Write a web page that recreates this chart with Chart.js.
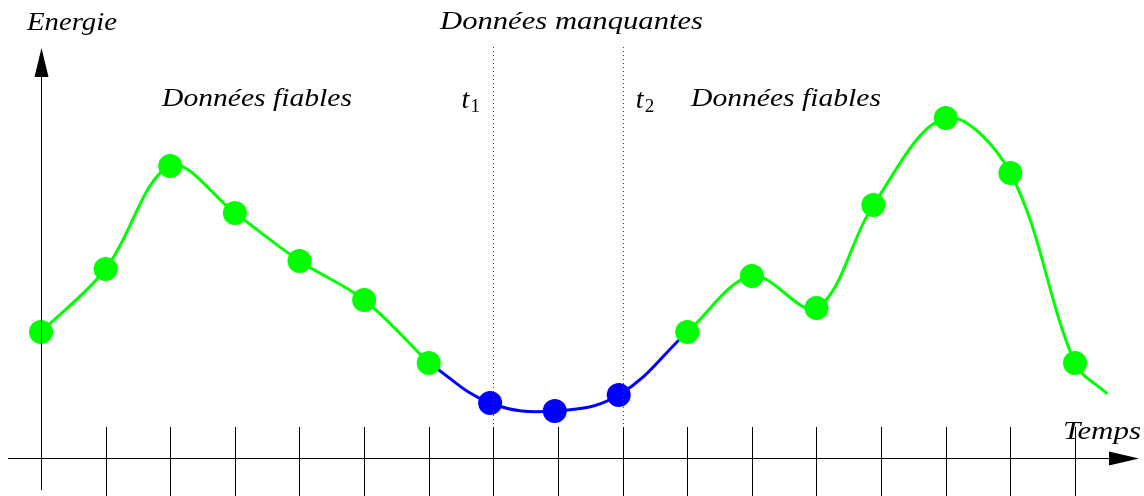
<!DOCTYPE html>
<html>
<head>
<meta charset="utf-8">
<script src="https://cdn.jsdelivr.net/npm/chart.js@4/dist/chart.umd.min.js"></script>
<style>
  html, body { margin: 0; padding: 0; background: #ffffff; }
  #c { display: block; }
</style>
</head>
<body>
<canvas id="c" width="1144" height="496"></canvas>
<script>
// ---- data ----
const timeTicks = [0, 1, 2, 3, 4, 5, 6, 7, 8, 9, 10, 11, 12, 13, 14, 15, 16];
const reliableX1 = [0, 1, 2, 3, 4, 5, 6];
const reliableY1 = [126, 189, 292, 245, 197, 158, 95];
const missingX = [6.95, 7.95, 8.94];
const missingY = [55, 47, 63];
const reliableX2 = [10, 11, 12, 12.88, 14, 15, 16, 16.5];
const reliableY2 = [126, 182, 150, 253, 340, 285, 95, 64];
const boundaryT = [7, 9];           // t1, t2
const axisLabels = { y: 'Energie', x: 'Temps' };
const zoneLabels = { missing: 'Données manquantes', reliable: 'Données fiables' };

// ---- build datasets ----
const greenData = reliableX1.map((x, i) => ({ x, y: reliableY1[i] }))
  .concat([{ x: 8, y: null }])
  .concat(reliableX2.map((x, i) => ({ x, y: reliableY2[i] })));
const greenRadius = greenData.map((p, i) => (i === greenData.length - 1 ? 0 : 12));

const blueData = [{ x: reliableX1[reliableX1.length - 1], y: reliableY1[reliableY1.length - 1] }]
  .concat(missingX.map((x, i) => ({ x, y: missingY[i] })))
  .concat([{ x: reliableX2[0], y: reliableY2[0] }]);
const blueRadius = blueData.map((p, i) => (i === 0 || i === blueData.length - 1 ? 0 : 12));

const STEP = 64.625, ORIGIN = 41;
const X_MIN = -ORIGIN / STEP, X_MAX = (1144 - ORIGIN) / STEP;

const SERIF = '"Liberation Serif", "DejaVu Serif", serif';

function fitText(ctx, str, left, baseline, width, size, italic) {
  ctx.save();
  ctx.font = (italic ? 'italic ' : '') + size + 'px ' + SERIF;
  const w = ctx.measureText(str).width;
  ctx.translate(left, baseline);
  if (width) ctx.scale(width / w, 1);
  ctx.textBaseline = 'alphabetic';
  ctx.textAlign = 'left';
  ctx.fillStyle = '#000';
  ctx.fillText(str, 0, 0);
  ctx.restore();
}

const decor = {
  id: 'decor',
  afterDatasetsDraw(chart) {
    const ctx = chart.ctx;
    const xs = chart.scales.x, ys = chart.scales.y;
    const X = v => xs.getPixelForValue(v);
    const Y = v => ys.getPixelForValue(v);
    const x0 = X(0), y0 = Y(0);
    ctx.save();
    ctx.strokeStyle = '#000';
    ctx.lineWidth = 1;
    // x axis
    ctx.beginPath();
    ctx.moveTo(8, Math.round(y0) + 0.5);
    ctx.lineTo(1112, Math.round(y0) + 0.5);
    ctx.stroke();
    // y axis
    ctx.beginPath();
    ctx.moveTo(Math.round(x0) + 0.5, y0 + 32);
    ctx.lineTo(Math.round(x0) + 0.5, 76);
    ctx.stroke();
    // ticks
    timeTicks.forEach(t => {
      if (t === 0) return;
      const px = Math.round(X(t)) + 0.5;
      ctx.beginPath();
      ctx.moveTo(px, y0 - 31);
      ctx.lineTo(px, 496);
      ctx.stroke();
    });
    // arrows
    ctx.fillStyle = '#000';
    ctx.beginPath();
    ctx.moveTo(x0 + 0.5, 48);
    ctx.lineTo(x0 + 7.5, 77);
    ctx.lineTo(x0 - 6.5, 77);
    ctx.closePath();
    ctx.fill();
    ctx.beginPath();
    ctx.moveTo(1139, y0 + 0.5);
    ctx.lineTo(1109, y0 - 6.5);
    ctx.lineTo(1109, y0 + 7.5);
    ctx.closePath();
    ctx.fill();
    // dotted boundaries
    ctx.strokeStyle = '#444';
    ctx.setLineDash([1, 3]);
    boundaryT.forEach(t => {
      const px = Math.round(X(t)) + 0.5;
      ctx.beginPath();
      ctx.moveTo(px, 47);
      ctx.lineTo(px, y0 - 31);
      ctx.stroke();
    });
    ctx.setLineDash([]);
    ctx.restore();

    // texts
    fitText(ctx, axisLabels.y, 27, 30, 90, 26, true);
    fitText(ctx, zoneLabels.missing, 440, 29, 263, 26, true);
    fitText(ctx, zoneLabels.reliable, 162, 106, 190, 26, true);
    fitText(ctx, zoneLabels.reliable, 691, 106, 190, 26, true);
    fitText(ctx, axisLabels.x, 1063, 439, 78, 26, true);
    // t1, t2
    const tl = [{ px: X(boundaryT[0]) - 32, s: '1' }, { px: X(boundaryT[1]) + 13, s: '2' }];
    tl.forEach(o => {
      fitText(ctx, 't', o.px, 108, 0, 28, true);
      fitText(ctx, o.s, o.px + 9, 112, 0, 19, false);
    });
  }
};

new Chart(document.getElementById('c'), {
  type: 'line',
  data: {
    datasets: [
      {
        data: greenData,
        borderColor: '#00ff00',
        backgroundColor: '#00ff00',
        pointBackgroundColor: '#00ff00',
        pointBorderColor: '#00ff00',
        pointBorderWidth: 0,
        pointRadius: greenRadius,
        borderWidth: 3,
        tension: 0.35,
        spanGaps: false,
        fill: false
      },
      {
        data: blueData,
        borderColor: '#0000ff',
        backgroundColor: '#0000ff',
        pointBackgroundColor: '#0000ff',
        pointBorderColor: '#0000ff',
        pointBorderWidth: 0,
        pointRadius: blueRadius,
        borderWidth: 3,
        tension: 0.4,
        fill: false
      }
    ]
  },
  options: {
    responsive: false,
    animation: false,
    devicePixelRatio: 1,
    layout: { padding: 0, autoPadding: false },
    plugins: { legend: { display: false }, tooltip: { enabled: false } },
    events: [],
    scales: {
      x: { type: 'linear', min: X_MIN, max: X_MAX, display: false },
      y: { type: 'linear', min: -38, max: 458, display: false }
    }
  },
  plugins: [decor]
});
</script>
</body>
</html>
